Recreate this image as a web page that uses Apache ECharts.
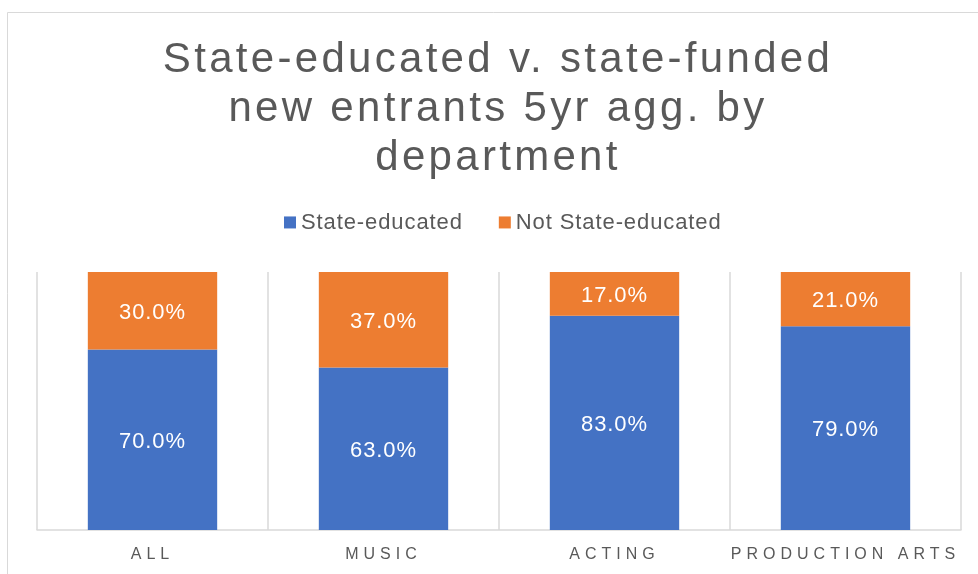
<!DOCTYPE html>
<html>
<head>
<meta charset="utf-8">
<title>State-educated v. state-funded new entrants</title>
<script src="https://cdn.jsdelivr.net/npm/echarts@6/dist/echarts.min.js"></script>
<style>
  html, body { margin: 0; padding: 0; background: #ffffff; }
  #chart { width: 978px; height: 574px; }
</style>
</head>
<body>
<div id="chart"></div>
<script>
// Departments and their 5-year aggregate shares (%)
const categories = ['ALL', 'MUSIC', 'ACTING', 'PRODUCTION ARTS'];
const stateEducated = [70, 63, 83, 79];
const notStateEducated = [30, 37, 17, 21];
const seriesNames = ['State-educated', 'Not State-educated'];

// Office-style tracking: extra letter spacing (px) keyed by font size,
// applied to both text measurement and drawing so layout stays consistent.
const TRACKING = { 42: 3.3, 22: 0.9, 16: 5 };
function trackingFor(font) {
  const m = /(\d+(?:\.\d+)?)px/.exec(font || '');
  return m ? (TRACKING[+m[1]] || 0) : 0;
}
(function () {
  const proto = CanvasRenderingContext2D.prototype;
  const rawFill = proto.fillText;
  const rawMeasure = proto.measureText;
  proto.fillText = function (text, x, y, maxWidth) {
    const s = trackingFor(this.font);
    if (s && 'letterSpacing' in this) {
      const prev = this.letterSpacing;
      this.letterSpacing = s + 'px';
      if (arguments.length > 3) rawFill.call(this, text, x, y, maxWidth);
      else rawFill.call(this, text, x, y);
      this.letterSpacing = prev;
    } else {
      rawFill.apply(this, arguments);
    }
  };
  proto.measureText = function (text) {
    const s = trackingFor(this.font);
    const m = rawMeasure.call(this, text);
    if (!s) return m;
    return {
      width: m.width + s * String(text).length,
      actualBoundingBoxAscent: m.actualBoundingBoxAscent,
      actualBoundingBoxDescent: m.actualBoundingBoxDescent,
      actualBoundingBoxLeft: m.actualBoundingBoxLeft,
      actualBoundingBoxRight: m.actualBoundingBoxRight + s * String(text).length
    };
  };
})();

const FONT = '"Liberation Sans", Arial, sans-serif';
const TEXT_GREY = '#595959';
const LINE_GREY = '#d9d9d9';
const BLUE = '#4472C4';
const ORANGE = '#ED7D31';

const chart = echarts.init(document.getElementById('chart'), null, { renderer: 'canvas' });

const pctLabel = {
  show: true,
  position: 'inside',
  offset: [0, 2],
  color: '#ffffff',
  fontFamily: FONT,
  fontSize: 22,
  formatter: p => p.value.toFixed(1) + '%'
};

chart.setOption({
  backgroundColor: '#ffffff',
  animation: false,
  graphic: [{
    type: 'rect',
    z: -10,
    silent: true,
    shape: { x: 7.5, y: 12.5, width: 1100, height: 700 },
    style: { fill: 'none', stroke: LINE_GREY, lineWidth: 1 }
  }],
  title: {
    text: 'State-educated v. state-funded\nnew entrants 5yr agg. by\ndepartment',
    left: 498,
    top: 36,
    padding: 0,
    textAlign: 'center',
    textVerticalAlign: 'top',
    textStyle: {
      fontFamily: FONT,
      fontSize: 42,
      fontWeight: 'normal',
      color: TEXT_GREY,
      lineHeight: 49
    }
  },
  legend: {
    data: seriesNames,
    left: 279,
    top: 206,
    itemWidth: 12,
    itemHeight: 12,
    itemGap: 36,
    icon: 'rect',
    textStyle: { fontFamily: FONT, fontSize: 22, color: TEXT_GREY }
  },
  grid: { left: 37, right: 17, top: 272, bottom: 44, containLabel: false },
  xAxis: {
    type: 'category',
    data: categories,
    axisLine: { show: true, lineStyle: { color: LINE_GREY, width: 1.5 } },
    axisTick: { show: false },
    splitLine: { show: true, interval: 0, lineStyle: { color: LINE_GREY, width: 1.5 } },
    axisLabel: {
      interval: 0,
      margin: 14,
      fontFamily: FONT,
      fontSize: 16,
      color: TEXT_GREY
    }
  },
  yAxis: {
    type: 'value',
    min: 0,
    max: 100,
    show: false,
    splitLine: { show: false }
  },
  series: [
    {
      name: seriesNames[0],
      type: 'bar',
      stack: 'share',
      data: stateEducated,
      barCategoryGap: '44%',
      itemStyle: { color: BLUE },
      label: pctLabel
    },
    {
      name: seriesNames[1],
      type: 'bar',
      stack: 'share',
      data: notStateEducated,
      barCategoryGap: '44%',
      itemStyle: { color: ORANGE },
      label: pctLabel
    }
  ]
});
</script>
</body>
</html>
